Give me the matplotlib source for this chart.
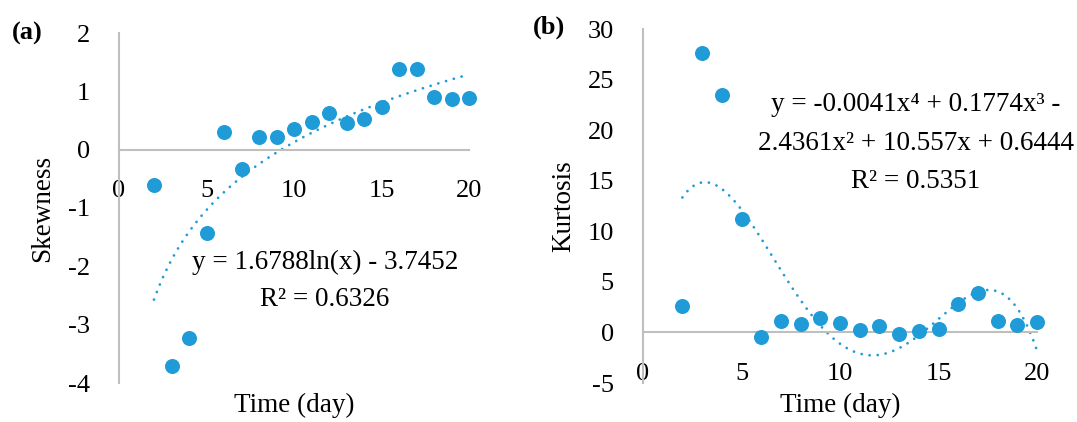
import numpy as np
import matplotlib
matplotlib.use("Agg")
import matplotlib.pyplot as plt

plt.rcParams['font.family'] = ['Liberation Serif', 'DejaVu Serif']
plt.rcParams['axes.unicode_minus'] = False

days = list(range(2, 21))
skewness = [-0.61, -3.70, -3.22, -1.43, 0.30, -0.33, 0.21, 0.22, 0.35, 0.48,
            0.63, 0.45, 0.53, 0.73, 1.39, 1.39, 0.91, 0.87, 0.89]
kurtosis = [2.61, 27.7, 23.5, 11.2, -0.43, 1.12, 0.79, 1.45, 0.89, 0.26,
            0.66, -0.17, 0.13, 0.30, 2.77, 3.86, 1.12, 0.73, 1.06]

xticks = [0, 5, 10, 15, 20]
yticks_a = [-4, -3, -2, -1, 0, 1, 2]
yticks_b = [-5, 0, 5, 10, 15, 20, 25, 30]

eq_a = "y = 1.6788ln(x) - 3.7452\nR\u00b2 = 0.6326"
eq_b = "y = -0.0041x\u2074 + 0.1774x\u00b3 -\n2.4361x\u00b2 + 10.557x + 0.6444\nR\u00b2 = 0.5351"

BLUE = '#1f9bd7'
GRAY = '#bfbfbf'
FS = 19
TFS = 19.5

W, H = 1077, 422
fig = plt.figure(figsize=(W / 100, H / 100), dpi=100)


def px_ax(l, r, t, b):
    return [l / W, 1 - b / H, (r - l) / W, (b - t) / H]


def style(ax, yticks):
    for s in ['top', 'right']:
        ax.spines[s].set_visible(False)
    ax.spines['left'].set_color(GRAY)
    ax.spines['left'].set_linewidth(1.5)
    ax.spines['bottom'].set_color(GRAY)
    ax.spines['bottom'].set_linewidth(1.5)
    ax.spines['bottom'].set_position(('data', 0))
    ax.set_xticks(xticks)
    ax.set_yticks(yticks)
    ax.tick_params(axis='both', length=0, labelsize=FS)
    ax.tick_params(axis='x', pad=22)
    ax.tick_params(axis='y', pad=21)
    ax.set_facecolor('none')


def ftext(xp, yp, s, **kw):
    fig.text(xp / W, 1 - yp / H, s, **kw)


x = np.array(days, dtype=float)
xs = np.linspace(2, 20, 300)
dots = (0, (0.01, 2.9))

# (a)
axa = fig.add_axes(px_ax(119, 469, 33, 383))
style(axa, yticks_a)
axa.set_xlim(0, 20)
axa.set_ylim(-4, 2)
ca = np.polyfit(np.log(x), np.array(skewness), 1)
axa.plot(xs, np.polyval(ca, np.log(xs)), color=BLUE, lw=2.0,
         linestyle=dots, dash_capstyle='round', clip_on=False)
axa.plot(days, skewness, 'o', color=BLUE, ms=10.8, mew=0, clip_on=False, zorder=3)

# (b)
axb = fig.add_axes(px_ax(643, 1037, 29.3, 383))
style(axb, yticks_b)
axb.set_xlim(0, 20)
axb.set_ylim(-5, 30)
cb = np.polyfit(x, np.array(kurtosis), 4)
axb.plot(xs, np.polyval(cb, xs), color=BLUE, lw=2.0,
         linestyle=dots, dash_capstyle='round', clip_on=False)
axb.plot(days, kurtosis, 'o', color=BLUE, ms=10.8, mew=0, clip_on=False, zorder=3)

ftext(325, 281, eq_a, ha='center', va='center', fontsize=TFS, linespacing=1.65)
ftext(916, 143, eq_b, ha='center', va='center', fontsize=TFS, linespacing=1.7)
ftext(27, 33, "(a)", ha='center', va='center', fontsize=FS, fontweight='bold')
ftext(549, 27, "(b)", ha='center', va='center', fontsize=FS, fontweight='bold')
ftext(43, 208, "Skewness", ha='center', va='center', fontsize=TFS, rotation=90)
ftext(564, 206, "Kurtosis", ha='center', va='center', fontsize=TFS, rotation=90)
ftext(294, 405, "Time (day)", ha='center', va='center', fontsize=TFS)
ftext(840, 405, "Time (day)", ha='center', va='center', fontsize=TFS)

fig.savefig("out.png", dpi=100)
